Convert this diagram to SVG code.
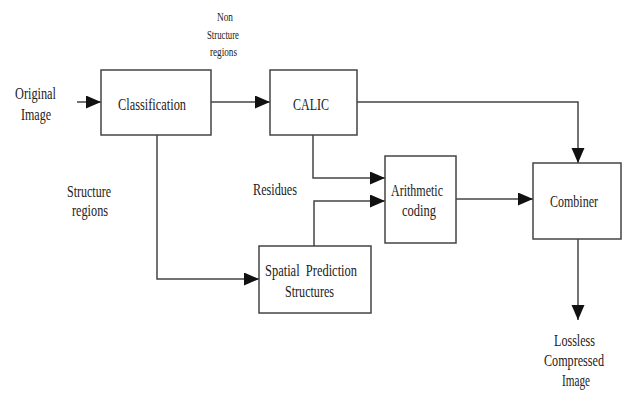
<svg xmlns="http://www.w3.org/2000/svg" width="622" height="394" viewBox="0 0 622 394">
<style>
.box{fill:#fff;stroke:#444;stroke-width:1.5}
.ln{fill:none;stroke:#444;stroke-width:1.5}
text{font-family:'Liberation Serif','DejaVu Serif',serif;fill:#222;font-size:17px}
.sm{font-size:12px}
.out{font-size:16px}
</style>
<defs>
<marker id="ah" markerUnits="userSpaceOnUse" markerWidth="16" markerHeight="14" refX="15" refY="6.5" orient="auto">
<path d="M0,0 L15,6.5 L0,13 z" fill="#111"/>
</marker>
</defs>
<rect width="622" height="394" fill="#fff"/>
<g id="connectors">
<path class="ln" d="M77,102 H101" marker-end="url(#ah)"/>
<path class="ln" d="M211,102 H270" marker-end="url(#ah)"/>
<path class="ln" d="M157,135 V279 H259" marker-end="url(#ah)"/>
<path class="ln" d="M313,135 V178 H385" marker-end="url(#ah)"/>
<path class="ln" d="M314,246 V201 H385" marker-end="url(#ah)"/>
<path class="ln" d="M456,199 H533" marker-end="url(#ah)"/>
<path class="ln" d="M357,102 H578 V163" marker-end="url(#ah)"/>
<path class="ln" d="M578,239 V320" marker-end="url(#ah)"/>
</g>
<g id="labels">
<text x="15" y="99" textLength="41" lengthAdjust="spacingAndGlyphs">Original</text>
<text x="21" y="120" textLength="30" lengthAdjust="spacingAndGlyphs">Image</text>
<text class="sm" x="217" y="21" textLength="16" lengthAdjust="spacingAndGlyphs">Non</text>
<text class="sm" x="207" y="39" textLength="32" lengthAdjust="spacingAndGlyphs">Structure</text>
<text class="sm" x="210" y="56" textLength="27" lengthAdjust="spacingAndGlyphs">regions</text>
<text x="67" y="197" textLength="44" lengthAdjust="spacingAndGlyphs">Structure</text>
<text x="72" y="216" textLength="36" lengthAdjust="spacingAndGlyphs">regions</text>
<text x="253" y="195" textLength="44" lengthAdjust="spacingAndGlyphs">Residues</text>
<text class="out" x="554" y="346" textLength="41" lengthAdjust="spacingAndGlyphs">Lossless</text>
<text class="out" x="544" y="366" textLength="60" lengthAdjust="spacingAndGlyphs">Compressed</text>
<text class="out" x="562" y="386" textLength="28" lengthAdjust="spacingAndGlyphs">Image</text>
</g>
<g id="classification">
<rect class="box" x="101" y="70" width="110" height="65"/>
<text x="118" y="110" textLength="68" lengthAdjust="spacingAndGlyphs">Classification</text>
</g>
<g id="calic">
<rect class="box" x="270" y="70" width="87" height="65"/>
<text x="293" y="110" textLength="36" lengthAdjust="spacingAndGlyphs">CALIC</text>
</g>
<g id="arithmetic">
<rect class="box" x="385" y="156" width="71" height="87"/>
<text x="391" y="196" textLength="52" lengthAdjust="spacingAndGlyphs">Arithmetic</text>
<text x="402" y="216" textLength="34" lengthAdjust="spacingAndGlyphs">coding</text>
</g>
<g id="spatial">
<rect class="box" x="259" y="246" width="112" height="67"/>
<text x="265" y="276" style="white-space:pre" textLength="92" lengthAdjust="spacingAndGlyphs">Spatial  Prediction</text>
<text x="285" y="297" textLength="49" lengthAdjust="spacingAndGlyphs">Structures</text>
</g>
<g id="combiner">
<rect class="box" x="533" y="163" width="88" height="76"/>
<text x="550" y="207" textLength="48" lengthAdjust="spacingAndGlyphs">Combiner</text>
</g>
</svg>
